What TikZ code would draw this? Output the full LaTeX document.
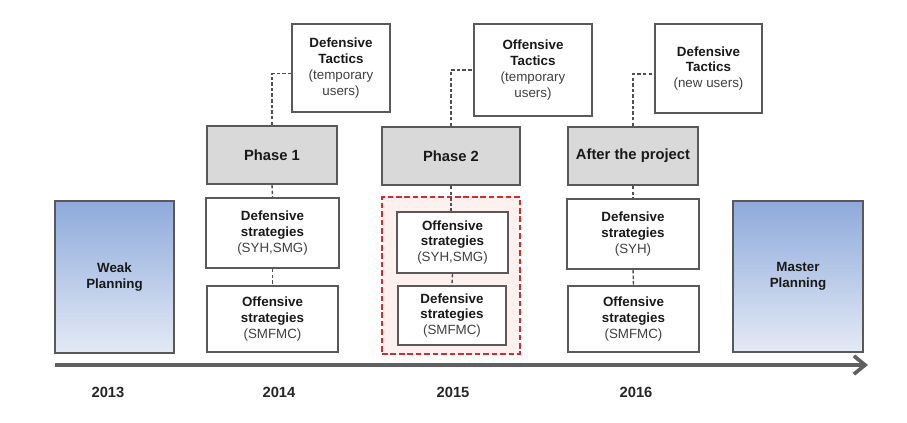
\documentclass[tikz,border=0pt]{standalone}
\usepackage{fontspec}
\setmainfont{Liberation Sans}
\usetikzlibrary{arrows.meta}
\definecolor{boxline}{HTML}{595959}
\definecolor{phasegray}{HTML}{D9D9D9}
\definecolor{planblue}{HTML}{8EAADB}
\definecolor{planlight}{HTML}{E4EAF5}
\definecolor{regionred}{HTML}{D62B2E}
\definecolor{regionpink}{HTML}{FDF1F0}
\definecolor{axisgray}{HTML}{606060}
\definecolor{subtext}{HTML}{404040}
\newcommand{\sub}[1]{\textcolor{subtext}{\mdseries #1}}

\begin{document}
\begin{tikzpicture}[x=0.025cm,y=-0.025cm,
  sz/.style 2 args={minimum width=#1*0.025cm,minimum height=#2*0.025cm},
  box/.style={draw=boxline,line width=1.3pt,fill=white,align=center,inner sep=0pt,
    font=\bfseries\fontsize{9.5}{11.2}\selectfont,text=black!90},
  phase/.style={box,fill=phasegray,font=\bfseries\fontsize{10.5}{12}\selectfont},
  plan/.style={box,top color=planblue,bottom color=planlight},
  region/.style={draw=regionred,fill=regionpink,line width=1.2pt,dash pattern=on 4pt off 2pt},
  conn/.style={draw=boxline!90!black,line width=1pt,dash pattern=on 2.5pt off 1.5pt},
  year/.style={font=\bfseries\fontsize{10.5}{12}\selectfont,text=black!85}]

\useasboundingbox (0,0) rectangle (907,422);

% planning blocks
\node[plan,sz={119}{152}] (weak) at (114.5,277) {Weak\\Planning};
\node[plan,sz={130}{151}] (master) at (798,276.5) {Master\\Planning};

% tactics
\node[box,sz={98}{88}] (tac1) at (341,68) {Defensive\\Tactics\\\sub{(temporary}\\\sub{users)}};
\node[box,sz={118}{92}] (tac2) at (533,70) {Offensive\\Tactics\\\sub{(temporary}\\\sub{users)}};
\node[box,sz={107}{89}] (tac3) at (708.5,68.5) {Defensive\\Tactics\\\sub{(new users)}};

% phases
\node[phase,sz={130}{58}] (ph1) at (272,155) {Phase 1};
\node[phase,sz={138}{58}] (ph2) at (451,156) {Phase 2};
\node[phase,sz={130}{58}] (ph3) at (633,156) {After the project};

% strategies
\node[box,sz={133}{70}] (str14a) at (272.5,233) {Defensive\\strategies\\\sub{(SYH,SMG)}};
\node[box,sz={131}{66}] (str14b) at (272.5,319) {Offensive\\strategies\\\sub{(SMFMC)}};
\node[region,sz={138}{157}] (focus) at (451,275.5) {};
\node[box,sz={111}{61}] (str15a) at (452.5,242.5) {Offensive\\strategies\\\sub{(SYH,SMG)}};
\node[box,sz={108}{59}] (str15b) at (452,315.5) {Defensive\\strategies\\\sub{(SMFMC)}};
\node[box,sz={132}{70}] (str16a) at (633,234) {Defensive\\strategies\\\sub{(SYH)}};
\node[box,sz={131}{66}] (str16b) at (633.5,319) {Offensive\\strategies\\\sub{(SMFMC)}};

% connectors
\draw[conn] (ph1.north) |- ([yshift=-4pt]tac1.west);
\draw[conn] (ph2.north) |- (tac2.west);
\draw[conn] (ph3.north) |- ([yshift=-4pt]tac3.west);
\draw[conn] (ph1.south) -- (str14a.north);
\draw[conn] (str14a.south) -- (str14b.north);
\draw[conn] (ph2.south) -- (str15a.north -| ph2.south);
\draw[conn] (str15a.south) -- (str15b.north);
\draw[conn] (ph3.south) -- (str16a.north);
\draw[conn] (str16a.south) -- (str16b.north);

% time axis
\coordinate (start) at (55,365);
\coordinate (stop) at (868,365);
\draw[draw=axisgray,line width=2.6pt,-{Straight Barb[length=8pt,width=13pt]}] (start) -- (stop);
\node[year] (y13) at (108,392) {2013};
\node[year] (y14) at (279,392) {2014};
\node[year] (y15) at (453,392) {2015};
\node[year] (y16) at (636,392) {2016};
\end{tikzpicture}
\end{document}
